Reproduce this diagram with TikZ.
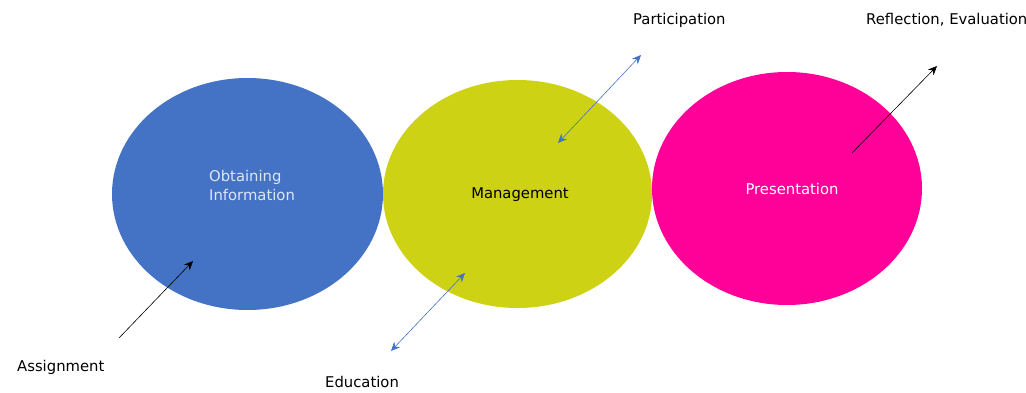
\documentclass[tikz,border=0pt]{standalone}
\usepackage{fontspec}
\setmainfont{DejaVu Sans}
\usetikzlibrary{arrows.meta}
\usetikzlibrary{shapes.geometric}
\definecolor{obtblue}{RGB}{68,114,196}
\definecolor{mgtyellow}{RGB}{205,210,20}
\definecolor{prspink}{RGB}{255,0,153}
\definecolor{palelabel}{RGB}{222,230,245}
\definecolor{linkblue}{RGB}{68,114,196}
\tikzset{stage/.style={ellipse,draw=none,inner sep=0pt},
	tag/.style={anchor=west,inner sep=0pt,font=\fontsize{14.8}{19}\selectfont}}

\begin{document}
\begin{tikzpicture}[x=1pt,y=-1pt]
		\useasboundingbox (0,0) rectangle (1026,393);
		\begin{scope}[every node/.style={stage}]
			\node[fill=obtblue,minimum width=271pt,minimum height=232pt] (O) at (247.5,194) {};
			\node[fill=mgtyellow,minimum width=269pt,minimum height=228pt] (M) at (517.5,194) {};
			\node[fill=prspink,minimum width=270pt,minimum height=233pt] (P) at (787,188.5) {};
		\end{scope}
		\node[tag,text=palelabel,align=left] (Otxt) at (209,185.5) {Obtaining\\Information};
		\node[tag,anchor=center] (Mtxt) at (520,195) {Management};
		\node[tag,anchor=center,text=white] (Ptxt) at (792,189) {Presentation};
		\node[tag] (As) at (17,367) {Assignment};
		\node[tag] (Ed) at (325,382) {Education};
		\node[tag] (Pa) at (633,20) {Participation};
		\node[tag] (Re) at (866,20) {Reflection, Evaluation};
		\coordinate (a1) at (119,338);
		\coordinate (a2) at (193,261);
		\coordinate (e1) at (391,351);
		\coordinate (e2) at (465,273);
		\coordinate (p1) at (558,143);
		\coordinate (p2) at (641,55);
		\coordinate (r1) at (852,153);
		\coordinate (r2) at (937,66);
		\begin{scope}[>={Stealth[length=9pt,width=8pt]},line width=0.6pt]
			\draw [->,black] (a1) -- (a2);
			\draw [<->,linkblue] (e1) -- (e2);
			\draw [<->,linkblue] (p1) -- (p2);
			\draw [->,black] (r1) -- (r2);
		\end{scope}
	\end{tikzpicture}
\end{document}
